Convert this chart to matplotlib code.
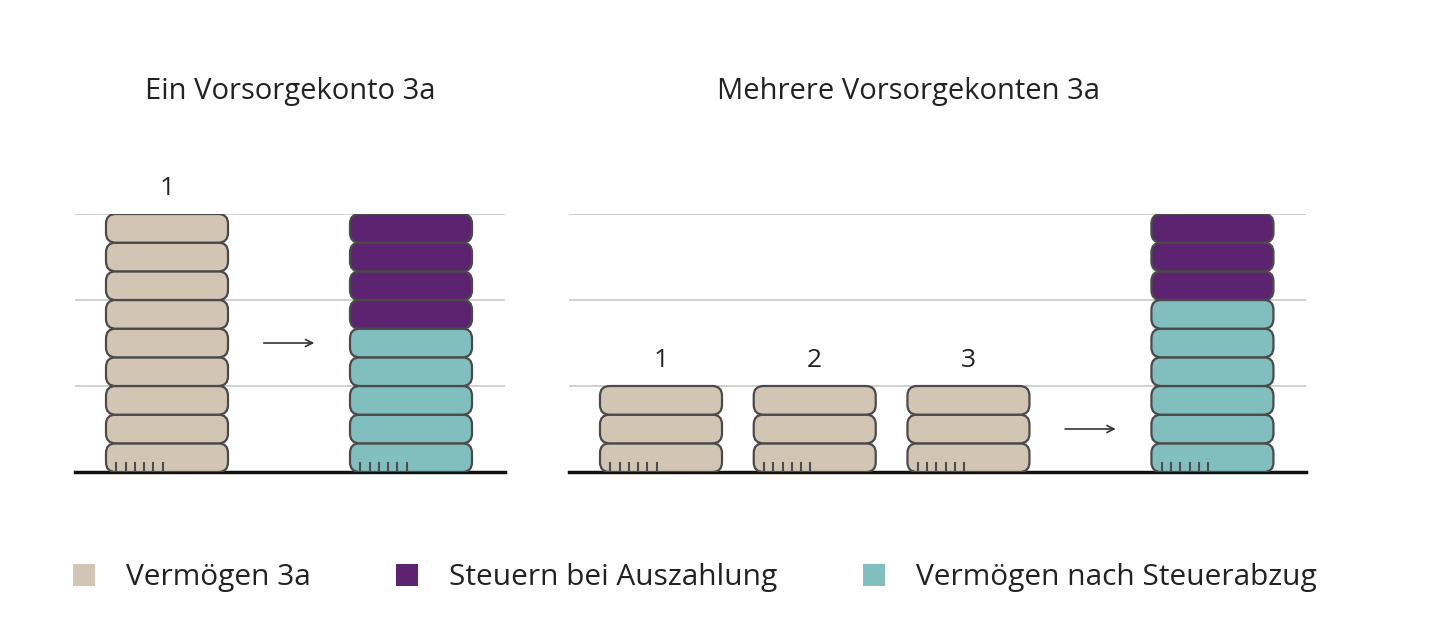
import numpy as np
import matplotlib.pyplot as plt
from matplotlib.patches import FancyBboxPatch, Patch

plt.rcParams['font.family'] = ['Open Sans', 'DejaVu Sans']

# Daten
titles = ['Ein Vorsorgekonto 3a', 'Mehrere Vorsorgekonten 3a']
konten_labels = [['1'], ['1', '2', '3']]
vermoegen_3a = [[9], [3, 3, 3]]     # Anzahl Münzen pro Konto
steuern = [4, 3]                    # Münzen Steuern bei Auszahlung
nach_steuer = [5, 6]                # Münzen Vermögen nach Steuerabzug
legend_labels = ['Vermögen 3a', 'Steuern bei Auszahlung', 'Vermögen nach Steuerabzug']

c_beige = '#d3c5b4'
c_purple = '#5c2370'
c_teal = '#80bfbe'
c_edge = '#4a4a4a'

W, H = 1440, 630
base_px, coin_px, unit_px = 472, 258 / 9, 122.0

fig = plt.figure(figsize=(W / 100, H / 100), dpi=100)


def coin(ax, x, y, color, bottom=False):
    p = FancyBboxPatch((x - 0.5, y), 1.0, 1.0,
                       boxstyle='round,pad=0,rounding_size=0.08',
                       mutation_aspect=unit_px / coin_px,
                       fc=color, ec=c_edge, lw=1.6, zorder=3)
    ax.add_patch(p)
    if bottom:
        # kleine Striche auf der untersten Münze
        for i in range(6):
            xi = x - 0.5 + 0.085 + i * 0.076
            ax.plot([xi, xi], [y + 0.02, y + 0.3], color='#4d4d4d', lw=1.5, zorder=4)


def stack(ax, x, counts, colors):
    y = 0
    for n, c in zip(counts, colors):
        for _ in range(n):
            coin(ax, x, y, c, bottom=(y == 0))
            y += 1
    return y


panels = [(75, 505, 0.5), (569, 1306, 0.46)]
spacing = [2.0, 1.26]

for k in range(2):
    x0, x1, title_x = panels[k]
    ax = fig.add_axes([x0 / W, (H - base_px) / H, (x1 - x0) / W, 9 * coin_px / H])
    ax.set_xlim(-92 / unit_px, (x1 - x0 - 92) / unit_px)
    ax.set_ylim(0, 9)

    xs = np.arange(len(vermoegen_3a[k])) * spacing[k]
    for x, n, lab in zip(xs, vermoegen_3a[k], konten_labels[k]):
        top = stack(ax, x, [n], [c_beige])
        ax.text(x, top + 0.9, lab, ha='center', va='center', fontsize=19,
                color='#222222', clip_on=False)

    x_res = xs[-1] + 2.0
    stack(ax, x_res, [nach_steuer[k], steuern[k]], [c_teal, c_purple])

    x_mid = (xs[-1] + x_res) / 2
    y_arr = max(vermoegen_3a[k]) / 2
    ax.annotate('', xy=(x_mid + 0.23, y_arr), xytext=(x_mid - 0.23, y_arr),
                arrowprops=dict(arrowstyle='->,head_length=0.5,head_width=0.25',
                                color='#333333', lw=1.2))

    ax.set_yticks([3, 6, 9])
    ax.grid(axis='y', color='#c8c8c8', lw=1.2)
    ax.set_axisbelow(True)
    ax.set_xticks([])
    ax.tick_params(left=False, labelleft=False)
    for s in ['top', 'left', 'right']:
        ax.spines[s].set_visible(False)
    ax.spines['bottom'].set_linewidth(2.5)
    ax.spines['bottom'].set_color('#111111')

    ax.text(title_x, (base_px - 92) / (9 * coin_px), titles[k], transform=ax.transAxes,
            ha='center', va='center', fontsize=21, color='#222222')

handles = [Patch(fc=c, ec='none') for c in [c_beige, c_purple, c_teal]]
fig.legend(handles=handles, labels=legend_labels, loc='center',
           bbox_to_anchor=(695 / W, 1 - 578 / H), ncol=3, frameon=False,
           fontsize=21.5, handlelength=0.74, handleheight=0.74,
           columnspacing=2.85, handletextpad=1.04, labelcolor='#222222')

plt.savefig('out.png', dpi=100)
